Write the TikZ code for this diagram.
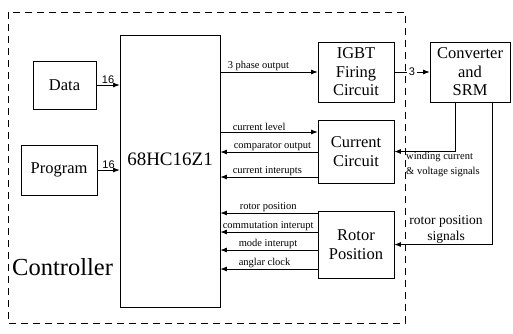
\documentclass[tikz,border=0pt]{standalone}
\usepackage{fontspec}
\setmainfont{Liberation Serif}
\newfontfamily\numfont{Liberation Sans}
\usetikzlibrary{arrows.meta,positioning,calc}

\begin{document}
\begin{tikzpicture}[x=1pt,y=-1pt,>={Latex[length=6.5pt,width=5pt]},
  blk/.style={draw,line width=0.8pt,align=center,inner sep=0pt,font=\fontsize{16.5}{18.5}\selectfont},
  sig/.style={line width=0.75pt},
  lbl/.style={font=\fontsize{10.5}{12}\selectfont,inner sep=1pt},
  num/.style={font=\numfont\fontsize{11}{12}\selectfont,inner sep=1pt}]
\useasboundingbox (0,0) rectangle (513,333);
% controller boundary
\draw[line width=0.7pt,dash pattern=on 7pt off 5pt] (8,12) rectangle (405,323);
\node[anchor=west,inner sep=0pt,font=\fontsize{24.5}{26}\selectfont] (ctrl) at (12,267) {Controller};
% blocks
\node[blk,minimum width=100pt,minimum height=272pt] (mcu) at (170,171) {};
\node[font=\fontsize{19}{21}\selectfont,inner sep=0pt] (mcutxt) at (170,159) {68HC16Z1};
\node[blk,minimum width=63pt,minimum height=48pt] (data) at (64.5,85) {Data};
\node[blk,minimum width=76pt,minimum height=50pt] (prog) at (59,170) {Program};
\node[blk,minimum width=76pt,minimum height=60pt] (igbt) at (356,72) {IGBT\\Firing\\Circuit};
\node[blk,minimum width=80pt,minimum height=60pt] (conv) at (470,72) {Converter\\and\\SRM};
\node[blk,minimum width=76pt,minimum height=63pt] (cc) at (356,151.5) {Current\\Circuit};
\node[blk,minimum width=76pt,minimum height=67pt] (rp) at (356,244.5) {Rotor\\Position};
% memory buses
\draw[sig,->] (data.east) -- node[num,above]{16} (data.east -| mcu.west);
\draw[sig,->] (prog.east) -- node[num,above]{16} (prog.east -| mcu.west);
% firing path
\draw[sig,->] (mcu.east |- igbt.west) node[lbl,anchor=south west,xshift=6pt]{3 phase output} -- (igbt.west);
\draw[sig,->] (igbt.east) -- node[num,fill=white,inner sep=1.5pt]{3} (conv.west);
% current circuit
\draw[sig,->] (mcu.east |- 0,132) node[lbl,anchor=south west,xshift=11pt]{current level} -- (cc.west |- 0,132);
\draw[sig,<-] (mcu.east |- 0,152) node[lbl,anchor=south west,xshift=12pt]{comparator output} -- (cc.west |- 0,152);
\draw[sig,<-] (mcu.east |- 0,177) node[lbl,anchor=south west,xshift=11pt]{current interupts} -- (cc.west |- 0,177);
% rotor position
\foreach \yy/\txt/\xs in {213/rotor position/18,232/commutation interupt/1,250/mode interupt/17,269/anglar clock/17}
  \draw[sig,<-] (mcu.east |- 0,\yy) node[lbl,anchor=south west,xshift=\xs pt]{\txt} -- (rp.west |- 0,\yy);
% feedback from the machine
\draw[sig,->] (conv.south -| 455,0) |- (cc.east);
\draw[sig,->] (conv.south -| 492,0) |- (rp.east);
\node[lbl,anchor=north west,align=left,inner sep=0pt,font=\fontsize{10.5}{15}\selectfont] (wind) at (406,152) {winding current\\\& voltage signals};
\node[align=center,inner sep=0pt,font=\fontsize{13.5}{16}\selectfont] (rps) at (446,229) {rotor position\\signals};
\end{tikzpicture}
\end{document}
